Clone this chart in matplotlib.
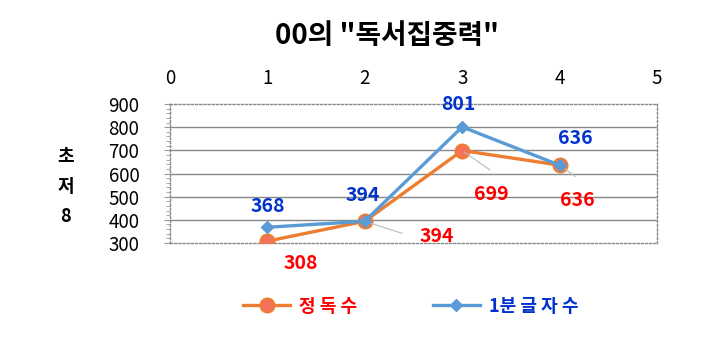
import numpy as np
import matplotlib
matplotlib.use("Agg")
import matplotlib.pyplot as plt
import matplotlib.ticker as ticker

plt.rcParams['font.family'] = ['Noto Sans CJK KR', 'DejaVu Sans']

# Data
x_vals = [1, 2, 3, 4]
jeongdok = [308, 394, 699, 636]       # 정독수
geulja = [368, 394, 801, 636]         # 1분글자수
title = '00의 "독서집중력"'
ylabel = '초\n저\n8'

# Label offsets in pixels (label position relative to point)
blue_off = [(0, 21), (-2, 26), (-4, 22), (16, 27)]
red_off = [(33, -22), (72, -15), (29, -44), (18, -35)]
red_lead = [None, (40, -13), (30, -21), (18, -13)]

fig = plt.figure(figsize=(7.27, 3.58), dpi=100)
ax = fig.add_axes([0.2338, 0.3212, 0.6699, 0.3883])

orange = '#ED7D31'
blue = '#5B9BD5'
ax.plot(x_vals, jeongdok, color=orange, lw=2.4, marker='o', ms=10,
        mfc='#F4725A', mec=orange, mew=1.5, label='정 독 수', zorder=3)
ax.plot(x_vals, geulja, color=blue, lw=2.4, marker='D', ms=6.5,
        mfc=blue, mec=blue, label='1분 글 자 수', zorder=4)

for x, y, off in zip(x_vals, geulja, blue_off):
    ax.annotate(str(y), (x, y), xytext=off, textcoords='offset pixels',
                ha='center', va='center', fontsize=14, fontweight='bold',
                color='#0033CC', zorder=5)
for x, y, off, lead in zip(x_vals, jeongdok, red_off, red_lead):
    ax.annotate(str(y), (x, y), xytext=off, textcoords='offset pixels',
                ha='center', va='center', fontsize=14, fontweight='bold',
                color='#FF0000', zorder=5)
    if lead is not None:
        ax.annotate('', (x, y), xytext=lead, textcoords='offset pixels',
                    arrowprops=dict(arrowstyle='-', color='#BBBBBB', lw=0.8))

ax.set_xlim(0, 5)
ax.set_ylim(300, 900)
ax.xaxis.tick_top()
ax.set_xticks(range(0, 6))
ax.tick_params(axis='x', length=0, pad=11, labelsize=13.5)
ax.set_yticks(range(300, 1000, 100))
ax.yaxis.set_minor_locator(ticker.MultipleLocator(20))
ax.tick_params(axis='y', which='major', length=4, color='#999999', pad=18, labelsize=13.5)
ax.tick_params(axis='y', which='minor', length=3, color='#999999')
for v in range(400, 900, 100):
    ax.axhline(v, color='#888888', lw=1, zorder=1)
for s in ax.spines.values():
    s.set_linestyle((0, (1.5, 1.5)))
    s.set_color('#888888')
    s.set_linewidth(1)

fig.text(0.533, 0.9, title, ha='center', va='center', fontsize=20, fontweight='bold')
fig.text(0.09, 0.48, ylabel, ha='center', va='center', fontsize=13,
         fontweight='bold', linespacing=1.75)

leg = fig.legend(loc='center', bbox_to_anchor=(0.565, 0.145), ncol=2, frameon=False,
                 fontsize=13, handlelength=2.6, handletextpad=0.5, columnspacing=4.2)
leg.get_texts()[0].set_color('#FF0000')
leg.get_texts()[1].set_color('#0033CC')
for t in leg.get_texts():
    t.set_fontweight('bold')

fig.savefig('out.png', dpi=100)
